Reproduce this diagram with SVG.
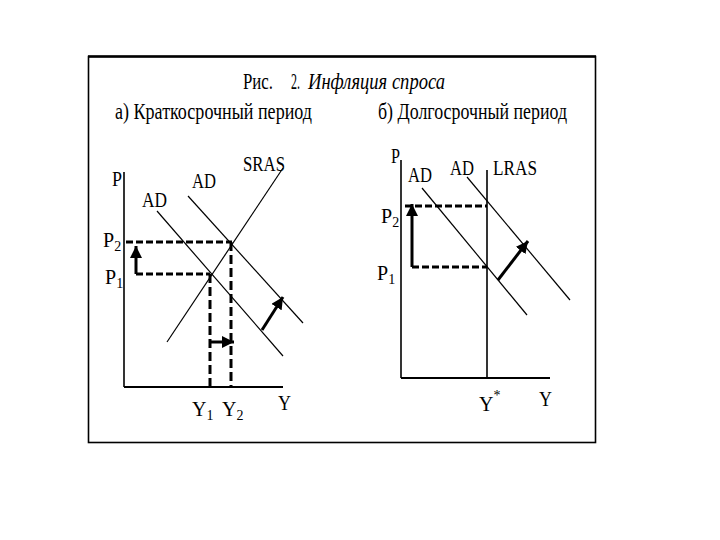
<svg xmlns="http://www.w3.org/2000/svg" width="720" height="540" viewBox="0 0 720 540">
<style>
text{font-family:"Liberation Serif","Times New Roman",serif;fill:#000}
.t{font-size:23px}
.l{font-size:22px}
.m{font-size:20px}
.s{font-size:14px}
.ax{stroke:#000;stroke-width:1.6;fill:none}
.axb{stroke:#000;stroke-width:2.2;fill:none}
.cv{stroke:#000;stroke-width:1.2;fill:none}
.d{stroke:#000;stroke-width:3;fill:none;stroke-dasharray:7 3}
.dv{stroke:#000;stroke-width:3;fill:none;stroke-dasharray:9 4}
.ar{stroke:#000;stroke-width:3;fill:none;marker-end:url(#ah)}
</style>
<defs>
<marker id="ah" markerUnits="userSpaceOnUse" markerWidth="14" markerHeight="12" refX="12" refY="6" orient="auto">
<path d="M0,0 L12,6 L0,12 Z" fill="#000"/>
</marker>
</defs>
<rect x="0" y="0" width="720" height="540" fill="#fff"/>
<g id="frame">
<rect x="88.5" y="56.5" width="507" height="386" fill="none" stroke="#000" stroke-width="1.6"/>
<line x1="88" y1="56.5" x2="596" y2="56.5" stroke="#000" stroke-width="2.5"/>
</g>
<g id="titles">
<text class="t" x="243" y="89" textLength="30" lengthAdjust="spacingAndGlyphs">Рис.</text>
<text class="t" x="291" y="89" textLength="9" lengthAdjust="spacingAndGlyphs">2.</text>
<text class="t" x="308" y="89" font-style="italic" textLength="137" lengthAdjust="spacingAndGlyphs">Инфляция спроса</text>
<text class="t" x="115" y="119" textLength="197" lengthAdjust="spacingAndGlyphs">а) Краткосрочный период</text>
<text class="t" x="378" y="119" textLength="189" lengthAdjust="spacingAndGlyphs">б) Долгосрочный период</text>
</g>
<g id="connectors">
<path class="d" d="M126,242 H232"/>
<path class="d" d="M136,274 H210" stroke-width="4" stroke-dasharray="5 3"/>
<path class="dv" d="M210,274 V387"/>
<path class="dv" d="M231,242 V387"/>
<path class="ar" d="M136,274 V246"/>
<path class="ar" d="M210,342 H234"/>
<path class="ar" d="M262,330 L283,297"/>
<path class="d" d="M405,206 H487"/>
<path class="d" d="M412,267 H487"/>
<path class="ar" d="M412,267 V204"/>
<path class="ar" d="M498,280 L528,241"/>
</g>
<g id="left-axes">
<path class="ax" d="M124,172 V387"/>
<path class="axb" d="M124,387 H283"/>
</g>
<g id="left-AD1"><path class="cv" d="M157,211 L283,356"/></g>
<g id="left-AD2"><path class="cv" d="M188,196 L303,323"/></g>
<g id="left-SRAS"><path class="cv" d="M167,342 L283,168"/></g>
<g id="right-axes">
<path class="ax" d="M401,160 V378"/>
<path class="axb" d="M401,378 H550"/>
</g>
<g id="right-LRAS"><path class="ax" d="M487,170 V378"/></g>
<g id="right-AD1"><path class="cv" d="M422,188 L527,315"/></g>
<g id="right-AD2"><path class="cv" d="M467,177 L570,300"/></g>
<g id="left-labels">
<text class="l" x="112" y="186" textLength="10" lengthAdjust="spacingAndGlyphs">P</text>
<text class="l" x="142" y="207" textLength="25" lengthAdjust="spacingAndGlyphs">AD</text>
<text class="l" x="192" y="188" textLength="24" lengthAdjust="spacingAndGlyphs">AD</text>
<text class="l" x="243" y="171" textLength="42" lengthAdjust="spacingAndGlyphs">SRAS</text>
<text class="m" x="103" y="247">P<tspan class="s" dy="4">2</tspan></text>
<text class="m" x="105" y="284">P<tspan class="s" dy="4">1</tspan></text>
<text class="m" x="192" y="416">Y<tspan class="s" dy="4">1</tspan></text>
<text class="m" x="222" y="416">Y<tspan class="s" dy="4">2</tspan></text>
<text class="l" x="278" y="410" textLength="13" lengthAdjust="spacingAndGlyphs">Y</text>
</g>
<g id="right-labels">
<text class="l" x="391" y="163" textLength="9" lengthAdjust="spacingAndGlyphs">P</text>
<text class="l" x="408" y="182" textLength="24" lengthAdjust="spacingAndGlyphs">AD</text>
<text class="l" x="450" y="175" textLength="24" lengthAdjust="spacingAndGlyphs">AD</text>
<text class="l" x="493" y="175" textLength="44" lengthAdjust="spacingAndGlyphs">LRAS</text>
<text class="m" x="381" y="223">P<tspan class="s" dy="4">2</tspan></text>
<text class="m" x="377" y="280">P<tspan class="s" dy="4">1</tspan></text>
<text class="m" x="479" y="411">Y<tspan class="s" dy="-11">*</tspan></text>
<text class="l" x="539" y="406" textLength="13" lengthAdjust="spacingAndGlyphs">Y</text>
</g>
</svg>
